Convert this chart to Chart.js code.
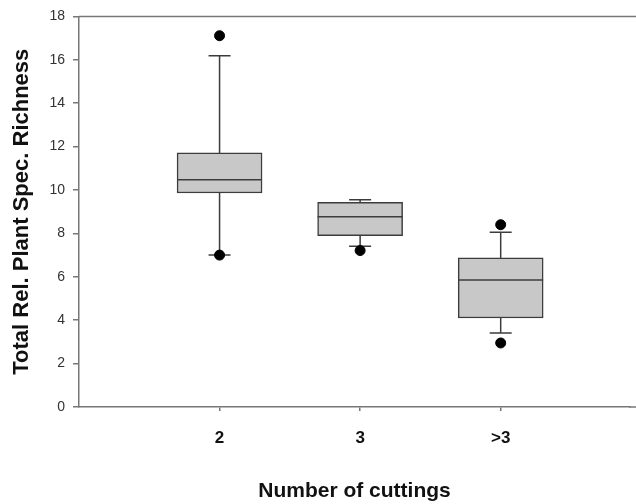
<!DOCTYPE html>
<html>
<head>
<meta charset="utf-8">
<script src="https://cdn.jsdelivr.net/npm/chart.js@4.4.1/dist/chart.umd.min.js"></script>
<style>
  html, body { margin: 0; padding: 0; background: #fff; }
  #wrap { width: 636px; height: 504px; position: relative; }
</style>
</head>
<body>
<div id="wrap"><canvas id="boxChart"></canvas></div>
<script>
// Box plot values
const cuttings = ['2', '3', '>3'];
const q1 = [9.86, 7.90, 4.10];
const q3 = [11.71, 9.43, 6.87];
const medians = [10.47, 8.77, 5.85];
const whiskerLow = [7.01, 7.41, 3.41];
const whiskerHigh = [16.19, 9.55, 8.05];
const outlierGroup = [0, 0, 1, 2, 2];
const outlierValues = [17.11, 7.0, 7.21, 8.40, 2.95];
const yTicks = [0, 2, 4, 6, 8, 10, 12, 14, 16, 18];

const lineColor = '#777777';
const boxStroke = '#3c3c3c';

// whiskers, caps, medians and the top frame line
const boxExtras = {
    id: 'boxExtras',
    beforeDatasetsDraw(chart) {
        const { ctx, scales: { x, y }, chartArea } = chart;
        ctx.save();
        // top frame line
        ctx.strokeStyle = lineColor;
        ctx.lineWidth = 1.5;
        ctx.beginPath();
        ctx.moveTo(chartArea.left, chartArea.top);
        ctx.lineTo(chart.width, chartArea.top);
        ctx.stroke();

        ctx.strokeStyle = boxStroke;
        ctx.lineWidth = 1.5;
        cuttings.forEach((c, i) => {
            const px = x.getPixelForValue(i);
            ctx.beginPath();
            ctx.moveTo(px, y.getPixelForValue(q3[i]));
            ctx.lineTo(px, y.getPixelForValue(whiskerHigh[i]));
            ctx.moveTo(px, y.getPixelForValue(q1[i]));
            ctx.lineTo(px, y.getPixelForValue(whiskerLow[i]));
            ctx.stroke();
            // caps
            ctx.beginPath();
            ctx.moveTo(px - 11, y.getPixelForValue(whiskerHigh[i]));
            ctx.lineTo(px + 11, y.getPixelForValue(whiskerHigh[i]));
            ctx.moveTo(px - 11, y.getPixelForValue(whiskerLow[i]));
            ctx.lineTo(px + 11, y.getPixelForValue(whiskerLow[i]));
            ctx.stroke();
        });
        ctx.restore();
    },
    afterDatasetDraw(chart, args) {
        if (args.index !== 0) return;
        const { ctx, scales: { x, y } } = chart;
        ctx.save();
        ctx.strokeStyle = boxStroke;
        ctx.lineWidth = 1.5;
        cuttings.forEach((c, i) => {
            const px = x.getPixelForValue(i);
            const py = y.getPixelForValue(medians[i]);
            ctx.beginPath();
            ctx.moveTo(px - 42.5, py);
            ctx.lineTo(px + 42.5, py);
            ctx.stroke();
        });
        ctx.restore();
    },
    afterDraw(chart) {
        // extend the bottom axis line to the page edge
        const { ctx, chartArea } = chart;
        ctx.save();
        ctx.strokeStyle = lineColor;
        ctx.lineWidth = 1.5;
        ctx.beginPath();
        ctx.moveTo(chartArea.right - 1, chartArea.bottom);
        ctx.lineTo(chart.width, chartArea.bottom);
        ctx.stroke();
        ctx.restore();
    }
};

const ctx = document.getElementById('boxChart').getContext('2d');
new Chart(ctx, {
    type: 'bar',
    data: {
        datasets: [{
            type: 'bar',
            data: cuttings.map((c, i) => ({ x: i, y: [q1[i], q3[i]] })),
            backgroundColor: '#c8c8c8',
            borderColor: boxStroke,
            borderWidth: 1.5,
            borderSkipped: false,
            barThickness: 85
        }, {
            type: 'scatter',
            data: outlierValues.map((v, i) => ({ x: outlierGroup[i], y: v })),
            backgroundColor: '#000000',
            borderColor: '#000000',
            pointRadius: 5,
            pointHoverRadius: 5
        }]
    },
    options: {
        responsive: true,
        maintainAspectRatio: false,
        animation: false,
        layout: { padding: { top: 15, right: 0, bottom: 0, left: 0 } },
        plugins: {
            legend: { display: false },
            tooltip: { enabled: false }
        },
        scales: {
            x: {
                type: 'linear',
                offset: false,
                min: -1,
                max: 2.92,
                afterBuildTicks: (scale) => {
                    scale.ticks = cuttings.map((c, i) => ({ value: i }));
                },
                afterFit: (scale) => { scale.height = 97; },
                ticks: {
                    callback: (v) => cuttings[v],
                    color: '#111111',
                    font: { family: 'Liberation Sans, Arial, sans-serif', size: 17, weight: 'bold' },
                    padding: 17,
                    maxRotation: 0
                },
                grid: { offset: false, drawOnChartArea: false, tickLength: 4, color: lineColor, lineWidth: 1.5 },
                border: { display: true, color: lineColor, width: 1.5 },
                title: {
                    display: true,
                    text: 'Number of cuttings',
                    color: '#111111',
                    font: { family: 'Liberation Sans, Arial, sans-serif', size: 21, weight: 'bold' },
                    padding: { top: 0, bottom: 0 }
                }
            },
            y: {
                min: 0,
                max: 18,
                afterBuildTicks: (scale) => {
                    scale.ticks = yTicks.map(v => ({ value: v }));
                },
                afterFit: (scale) => { scale.width = 79; },
                ticks: {
                    color: '#333333',
                    font: { family: 'Liberation Sans, Arial, sans-serif', size: 14 },
                    padding: 8
                },
                grid: { drawOnChartArea: false, tickLength: 6, color: lineColor, lineWidth: 1.5 },
                border: { display: true, color: lineColor, width: 1.5 },
                title: {
                    display: true,
                    text: 'Total Rel. Plant Spec. Richness',
                    color: '#111111',
                    font: { family: 'Liberation Sans, Arial, sans-serif', size: 22, weight: 'bold' },
                    padding: { top: 9, bottom: 0 }
                }
            }
        }
    },
    plugins: [boxExtras]
});
</script>
</body>
</html>
